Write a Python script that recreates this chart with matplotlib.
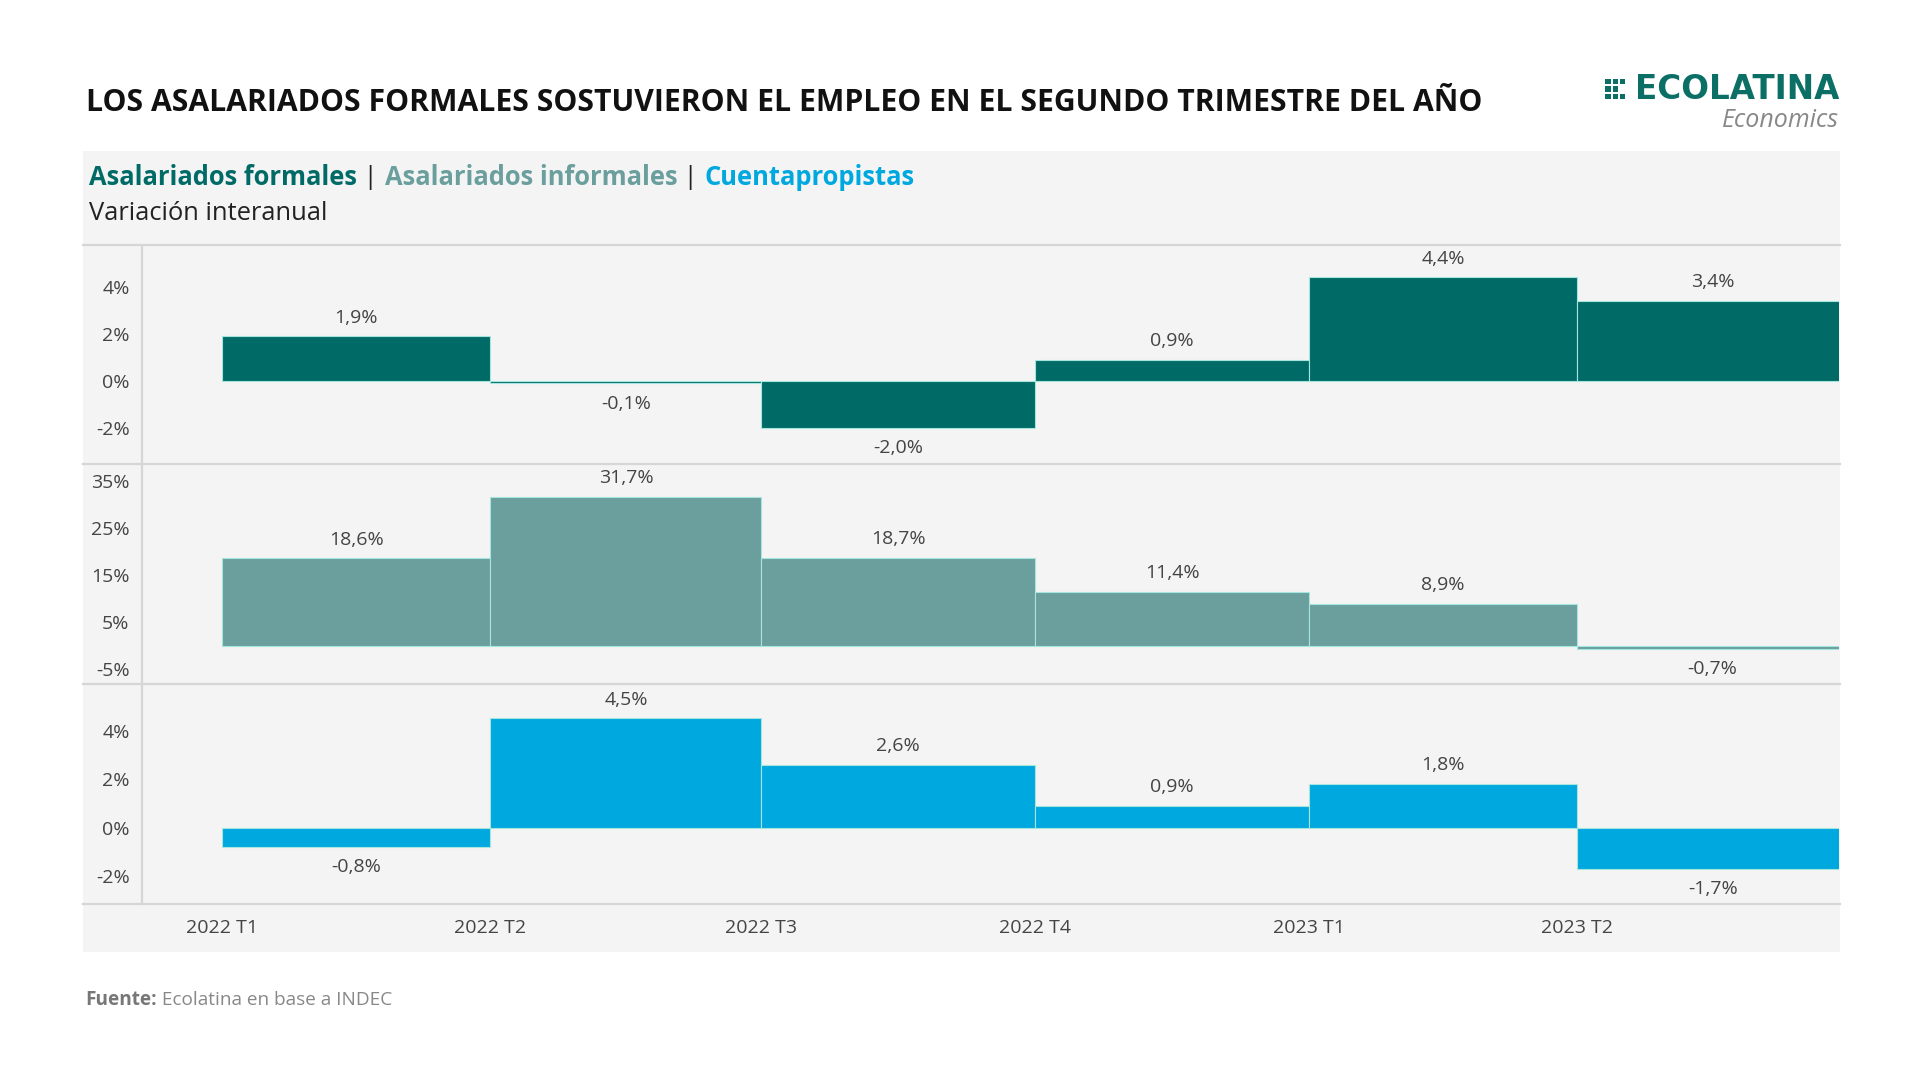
import matplotlib
matplotlib.use("Agg")
import matplotlib.pyplot as plt
import matplotlib.dates as mdates
from matplotlib.patches import Rectangle
from matplotlib.lines import Line2D
from datetime import date

# ---------------- data ----------------
quarters = ["2022 T1", "2022 T2", "2022 T3", "2022 T4", "2023 T1", "2023 T2"]
quarter_starts = [date(2022, 1, 1), date(2022, 4, 1), date(2022, 7, 1),
                  date(2022, 10, 1), date(2023, 1, 1), date(2023, 4, 1)]
quarter_end_last = date(2023, 7, 1)
formales = [1.9, -0.1, -2.0, 0.9, 4.4, 3.4]
informales = [18.6, 31.7, 18.7, 11.4, 8.9, -0.7]
cuentapropistas = [-0.8, 4.5, 2.6, 0.9, 1.8, -1.7]

ticks_formales = [-2, 0, 2, 4]
ticks_informales = [-5, 5, 15, 25, 35]
ticks_cuenta = [-2, 0, 2, 4]

title = "LOS ASALARIADOS FORMALES SOSTUVIERON EL EMPLEO EN EL SEGUNDO TRIMESTRE DEL AÑO"
subtitle = "Variación interanual"
source_bold = "Fuente:"
source_text = " Ecolatina en base a INDEC"

C_FORM = "#006b66"
C_INF = "#6b9f9d"
C_CUENTA = "#00a8e0"
C_BG = "#f4f4f4"
C_GRID = "#d6d6d6"
C_TXT = "#444444"
C_EDGE = "#a6e4de"

FONT = "Open Sans"
plt.rcParams["font.family"] = [FONT, "DejaVu Sans"]

W, H = 1568.0, 888.0  # reference layout units


def fx(x):
    return x / W


def fy(y):
    return 1 - y / H


fig = plt.figure(figsize=(19.2, 10.88), dpi=100)
fig.patch.set_facecolor("white")

# grey panel (behind axes)
fig.patches.append(Rectangle((fx(68), fy(777)), fx(1503) - fx(68), fy(123) - fy(777),
                             transform=fig.transFigure, facecolor=C_BG, edgecolor="none", zorder=-5))

# separator lines
for yy in [200, 379, 558, 738]:
    fig.lines.append(Line2D([fx(68), fx(1503)], [fy(yy), fy(yy)], transform=fig.transFigure,
                            color=C_GRID, lw=1.6, zorder=-4))
fig.lines.append(Line2D([fx(116), fx(116)], [fy(200), fy(738)], transform=fig.transFigure,
                        color=C_GRID, lw=1.6, zorder=-4))

panels = [
    (formales, C_FORM, ticks_formales, (-3.53, 5.77), 200, 379),
    (informales, C_INF, ticks_informales, (-8.1, 38.6), 379, 558),
    (cuentapropistas, C_CUENTA, ticks_cuenta, (-3.15, 5.93), 558, 738),
]

starts = mdates.date2num(quarter_starts)
ends = list(starts[1:]) + [mdates.date2num(quarter_end_last)]
widths = [e - s for s, e in zip(starts, ends)]
x_left = mdates.date2num(date(2021, 12, 5))
x_right = mdates.date2num(date(2023, 6, 28))

FS_TICK = 14
axes = []
for i, (vals, col, tks, ylim, ytop, ybot) in enumerate(panels):
    ax = fig.add_axes([fx(116), fy(ybot), fx(1502) - fx(116), fy(ytop) - fy(ybot)])
    ax.set_facecolor("none")
    ax.bar(starts, vals, width=widths, align="edge", color=col, edgecolor=C_EDGE,
           linewidth=0.8, zorder=2)
    ax.set_xlim(x_left, x_right)
    ax.set_ylim(*ylim)
    ax.set_yticks(tks)
    ax.set_yticklabels([f"{t}%" for t in tks], fontsize=FS_TICK, color=C_TXT)
    ax.tick_params(axis="y", length=0, pad=9)
    for s in ax.spines.values():
        s.set_visible(False)
    for s, w, v in zip(starts, widths, vals):
        lab = f"{v:.1f}".replace(".", ",") + "%"
        off = 13.5 if v >= 0 else -14.5
        ax.annotate(lab, (s + w / 2, v), xytext=(0, off), textcoords="offset points",
                    ha="center", va="center", fontsize=FS_TICK, color=C_TXT, clip_on=False)
    if i < 2:
        ax.set_xticks([])
    else:
        ax.set_xticks(starts)
        ax.set_xticklabels(quarters, fontsize=FS_TICK, color=C_TXT)
        ax.tick_params(axis="x", length=0, pad=11)
    axes.append(ax)

# title
fig.text(fx(70), fy(84), title, fontsize=21.7, fontweight="bold", color="#111111",
         ha="left", va="center")

# logo
fig.text(fx(1502), fy(73), "ECOLATINA", fontsize=23.5, fontweight="bold", color="#0b6f66",
         ha="right", va="center", family=["DejaVu Sans"])
fig.text(fx(1502), fy(98), "Economics", fontsize=18, style="italic", color="#888888",
         ha="right", va="center")
# logo icon grid
sq = 4.4
cells = [(0, 0), (0, 1), (0, 2), (1, 0), (1, 1), (1, 2), (2, 0), (2, 2)]
for cxi, cyi in cells:
    x0 = 1311 + cxi * 6.0
    y0 = 64.5 + cyi * 6.0
    fig.patches.append(Rectangle((fx(x0), fy(y0 + sq)), fx(sq), sq / H, transform=fig.transFigure,
                                 facecolor="#0b6f66", edgecolor="none", zorder=3))

# legend line with coloured parts
fig.canvas.draw()
renderer = fig.canvas.get_renderer()
parts = [("Asalariados formales", C_FORM, "bold"), (" | ", "#222222", "normal"),
         ("Asalariados informales", C_INF, "bold"), (" | ", "#222222", "normal"),
         ("Cuentapropistas", C_CUENTA, "bold")]
xcur = fx(73)
for txt, col, wt in parts:
    t = fig.text(xcur, fy(145), txt, fontsize=18.4, fontweight=wt, color=col, ha="left", va="center")
    bb = t.get_window_extent(renderer=renderer)
    xcur += bb.width / fig.bbox.width

fig.text(fx(73), fy(174), subtitle, fontsize=18.4, color="#222222", ha="left", va="center")

# source
t = fig.text(fx(70), fy(816), source_bold, fontsize=13.7, fontweight="bold", color="#777777",
             ha="left", va="center")
bb = t.get_window_extent(renderer=renderer)
fig.text(fx(70) + bb.width / fig.bbox.width, fy(816), source_text, fontsize=13.7, color="#888888",
         ha="left", va="center")

fig.savefig("out.png", dpi=100)
